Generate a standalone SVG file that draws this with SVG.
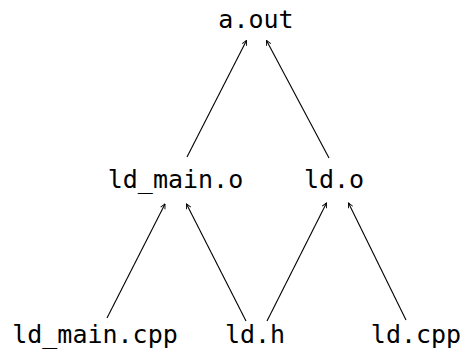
<svg xmlns="http://www.w3.org/2000/svg" width="468" height="356" viewBox="0 0 468 356">
<style>
text{font-family:"DejaVu Sans Mono","Liberation Mono",monospace;font-size:25px;fill:#000;text-anchor:middle}
.e{stroke:#000;stroke-width:1.1;fill:none;marker-end:url(#ah)}
</style>
<defs>
<marker id="ah" viewBox="0 0 10 10" refX="9" refY="5" markerWidth="6" markerHeight="6" markerUnits="userSpaceOnUse" orient="auto">
<path d="M1,1 L9,5 L1,9" fill="none" stroke="#000" stroke-width="1.5"/>
</marker>
</defs>
<rect width="468" height="356" fill="#fff"/>
<g id="edges">
<line class="e" x1="187" y1="157" x2="246.5" y2="40.5"/>
<line class="e" x1="329" y1="158" x2="266.5" y2="40.5"/>
<line class="e" x1="107" y1="318" x2="165" y2="204"/>
<line class="e" x1="246" y1="321" x2="186.5" y2="204"/>
<line class="e" x1="267" y1="321" x2="326.5" y2="203"/>
<line class="e" x1="406" y1="320" x2="348.5" y2="203"/>
</g>
<g id="a_out"><text x="256" y="28">a.out</text></g>
<g id="ld_main_o"><text x="175.5" y="188">ld_main.o</text></g>
<g id="ld_o"><text x="334" y="188">ld.o</text></g>
<g id="ld_main_cpp"><text x="95" y="343">ld_main.cpp</text></g>
<g id="ld_h"><text x="255" y="343">ld.h</text></g>
<g id="ld_cpp"><text x="416" y="343">ld.cpp</text></g>
</svg>
